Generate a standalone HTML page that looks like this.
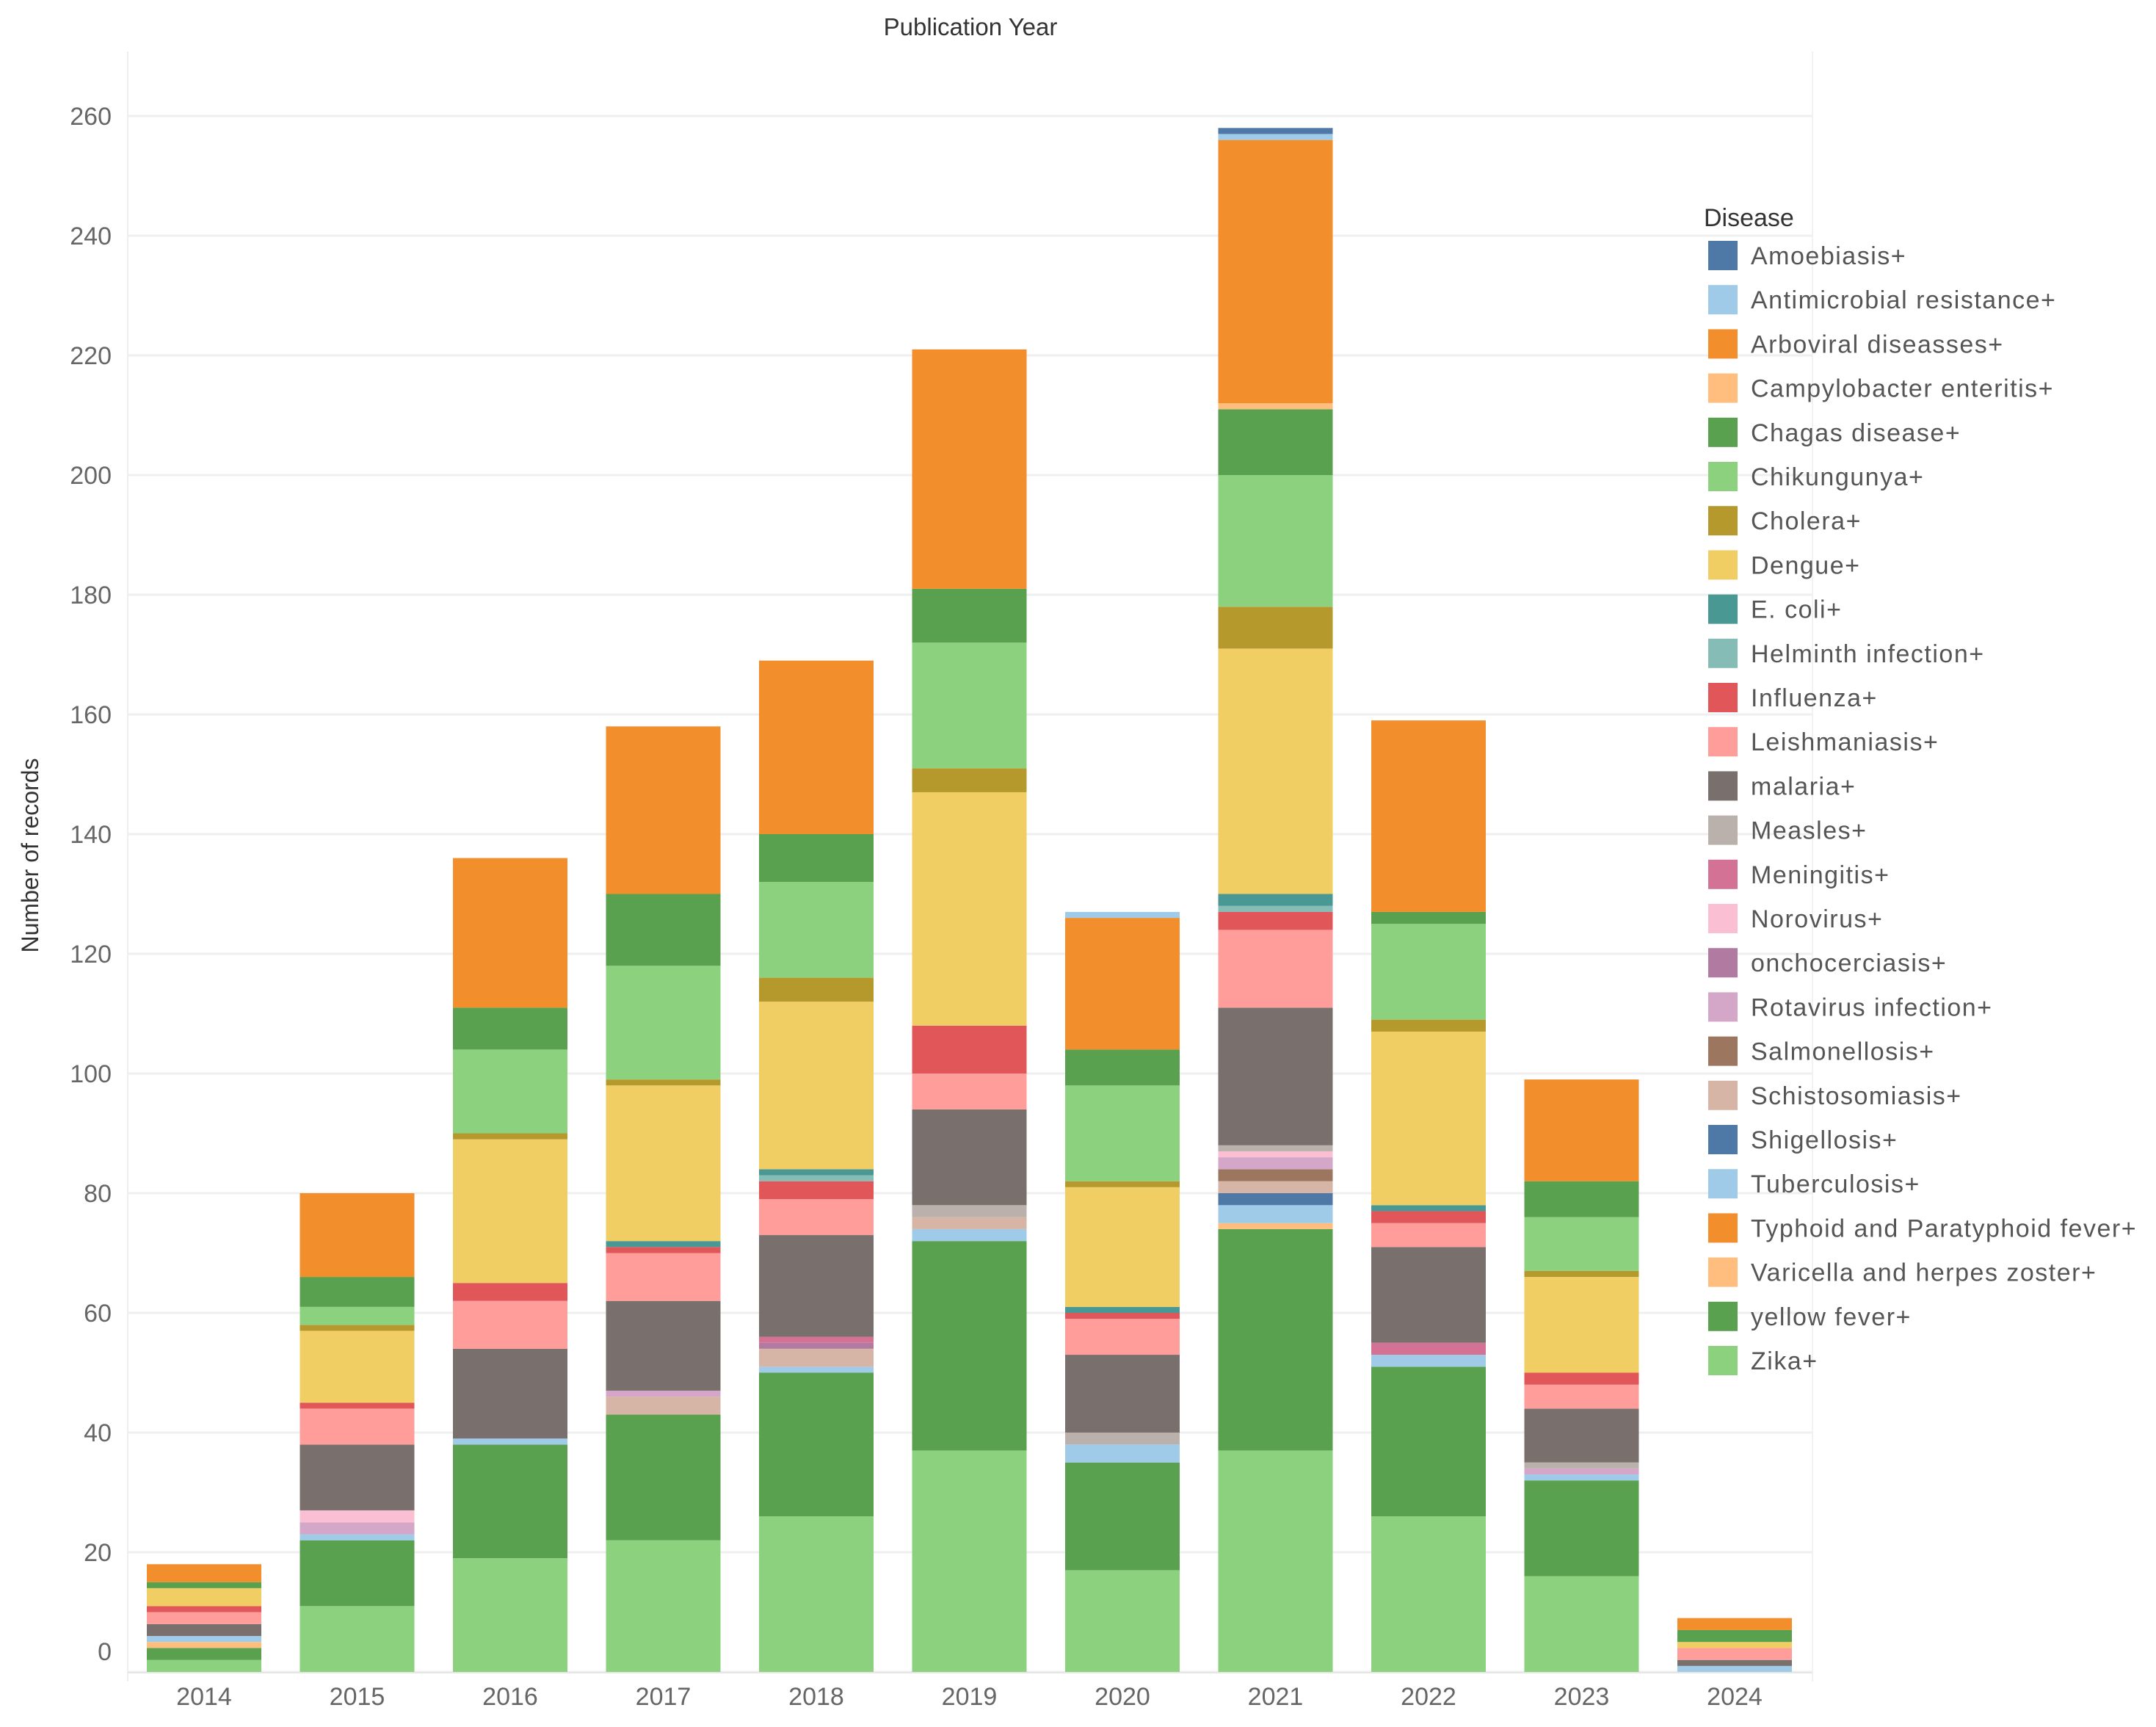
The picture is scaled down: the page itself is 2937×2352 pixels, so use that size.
<!DOCTYPE html>
<html><head><meta charset="utf-8"><style>
html,body{margin:0;padding:0;background:#fff;}
svg{display:block;font-family:"Liberation Sans",sans-serif;}
</style></head><body>
<svg id="chart" width="2937" height="2352" viewBox="0 0 2937 2352" xmlns="http://www.w3.org/2000/svg">
<text x="1322" y="48" font-size="33" fill="#333" text-anchor="middle">Publication Year</text>
<text x="0" y="0" transform="translate(52,1165) rotate(-90)" font-size="32" fill="#333" text-anchor="middle">Number of records</text>
<g id="grid"></g>
<g id="bars"></g>
<g id="axes"></g>
<g id="legend"></g>
</svg>
<script>
const years = ["2014","2015","2016","2017","2018","2019","2020","2021","2022","2023","2024"];
const yTicks = [0,20,40,60,80,100,120,140,160,180,200,220,240,260];
const diseases = ["Amoebiasis+","Antimicrobial resistance+","Arboviral diseasses+","Campylobacter enteritis+","Chagas disease+","Chikungunya+","Cholera+","Dengue+","E. coli+","Helminth infection+","Influenza+","Leishmaniasis+","malaria+","Measles+","Meningitis+","Norovirus+","onchocerciasis+","Rotavirus infection+","Salmonellosis+","Schistosomiasis+","Shigellosis+","Tuberculosis+","Typhoid and Paratyphoid fever+","Varicella and herpes zoster+","yellow fever+","Zika+"];
const colors = ["#4e79a7","#a0cbe8","#f28e2b","#ffbe7d","#59a14f","#8cd17d","#b6992d","#f1ce63","#499894","#86bcb6","#e15759","#ff9d9a","#79706e","#bab0ac","#d37295","#fabfd2","#b07aa1","#d4a6c8","#9d7660","#d7b5a6","#4e79a7","#a0cbe8","#f28e2b","#ffbe7d","#59a14f","#8cd17d"];
const amoebiasis = [0,0,0,0,0,0,0,1,0,0,0];
const antimicrobial = [0,0,0,0,0,0,1,1,0,0,0];
const arboviral = [3,14,25,28,29,40,22,44,32,17,2];
const campylobacter = [0,0,0,0,0,0,0,1,0,0,0];
const chagas = [1,5,7,12,8,9,6,11,2,6,2];
const chikungunya = [0,3,14,19,16,21,16,22,16,9,0];
const cholera = [0,1,1,1,4,4,1,7,2,1,0];
const dengue = [3,12,24,26,28,39,20,41,29,16,1];
const ecoli = [0,0,0,1,1,0,1,2,1,0,0];
const helminth = [0,0,0,0,1,0,0,1,0,0,0];
const influenza = [1,1,3,1,3,8,1,3,2,2,0];
const leishmaniasis = [2,6,8,8,6,6,6,13,4,4,2];
const malaria = [2,11,15,15,17,16,13,23,16,9,1];
const measles = [0,0,0,0,0,2,2,1,0,1,0];
const meningitis = [0,0,0,0,1,0,0,0,2,0,0];
const norovirus = [0,2,0,0,0,0,0,1,0,0,0];
const onchocerciasis = [0,0,0,0,1,0,0,0,0,0,0];
const rotavirus = [0,2,0,1,0,0,0,2,0,1,0];
const salmonellosis = [0,0,0,0,0,0,0,2,0,0,0];
const schistosomiasis = [0,0,0,3,3,2,0,2,0,0,0];
const shigellosis = [0,0,0,0,0,0,0,2,0,0,0];
const tuberculosis = [1,1,1,0,1,2,3,3,2,1,1];
const typhoid = [0,0,0,0,0,0,0,0,0,0,0];
const varicella = [1,0,0,0,0,0,0,1,0,0,0];
const yellowFever = [2,11,19,21,24,35,18,37,25,16,0];
const zika = [2,11,19,22,26,37,17,37,26,16,0];
const series = [amoebiasis,antimicrobial,arboviral,campylobacter,chagas,chikungunya,cholera,dengue,ecoli,helminth,influenza,leishmaniasis,malaria,measles,meningitis,norovirus,onchocerciasis,rotavirus,salmonellosis,schistosomiasis,shigellosis,tuberculosis,typhoid,varicella,yellowFever,zika];

const NS="http://www.w3.org/2000/svg";
const plotL=174, plotR=2469, y0=2277, pxPerUnit=163/20;
const yScale=v=>y0-v*pxPerUnit;
const step=208.5, firstCenter=278, barW=156;
const xCenter=i=>firstCenter+i*step;
function mk(tag,attrs,parent){const e=document.createElementNS(NS,tag);for(const k in attrs)e.setAttribute(k,attrs[k]);parent.appendChild(e);return e;}
const grid=document.getElementById('grid'),bars=document.getElementById('bars'),axes=document.getElementById('axes'),legend=document.getElementById('legend');

mk('line',{x1:plotL,x2:plotL,y1:70,y2:2290,stroke:"#eee","stroke-width":2},grid);
mk('line',{x1:plotR,x2:plotR,y1:70,y2:2290,stroke:"#f2f2f2","stroke-width":2},grid);
yTicks.forEach(t=>{
  const y=yScale(t);
  const l=mk('line',{x1:plotL,x2:plotR,y1:y,y2:y,stroke:"#efefef","stroke-width":3},grid);
  
  
  const tx=mk('text',{x:152,y:(t===0?y-16:y+12),"font-size":34,fill:"#666","text-anchor":"end"},axes);
  tx.textContent=t;
  
  
});
years.forEach((yr,i)=>{
  let cum=0;
  for(let s=series.length-1;s>=0;s--){
    const v=series[s][i]; if(!v) continue;
    const top=yScale(cum+v), bot=yScale(cum);
    const r=mk('rect',{x:xCenter(i)-barW/2,y:top,width:barW,height:bot-top,fill:colors[s]},bars);
    
    
    cum+=v;
  }
  const tx=mk('text',{x:xCenter(i),y:2322,"font-size":34,fill:"#666","text-anchor":"middle"},axes);
  tx.textContent=yr;
  
  
});
const base=mk('line',{x1:plotL,x2:plotR,y1:y0+1,y2:y0+1,stroke:"#e6e6e6","stroke-width":2},axes);



const lt=mk('text',{x:2321,y:308,"font-size":34,fill:"#333"},legend);
lt.textContent="Disease";


diseases.forEach((d,i)=>{
  const cy=348+i*60.2;
  const g=mk('g',{},legend);
  
  
  const sw=mk('rect',{x:2327,y:cy-20,width:40,height:40,fill:colors[i]},g);
  
  
  const t=mk('text',{x:2385,y:cy+12,"font-size":34,fill:"#555","letter-spacing":"1.5"},g);
  t.textContent=d;
  
  
});
</script>
</body></html>
